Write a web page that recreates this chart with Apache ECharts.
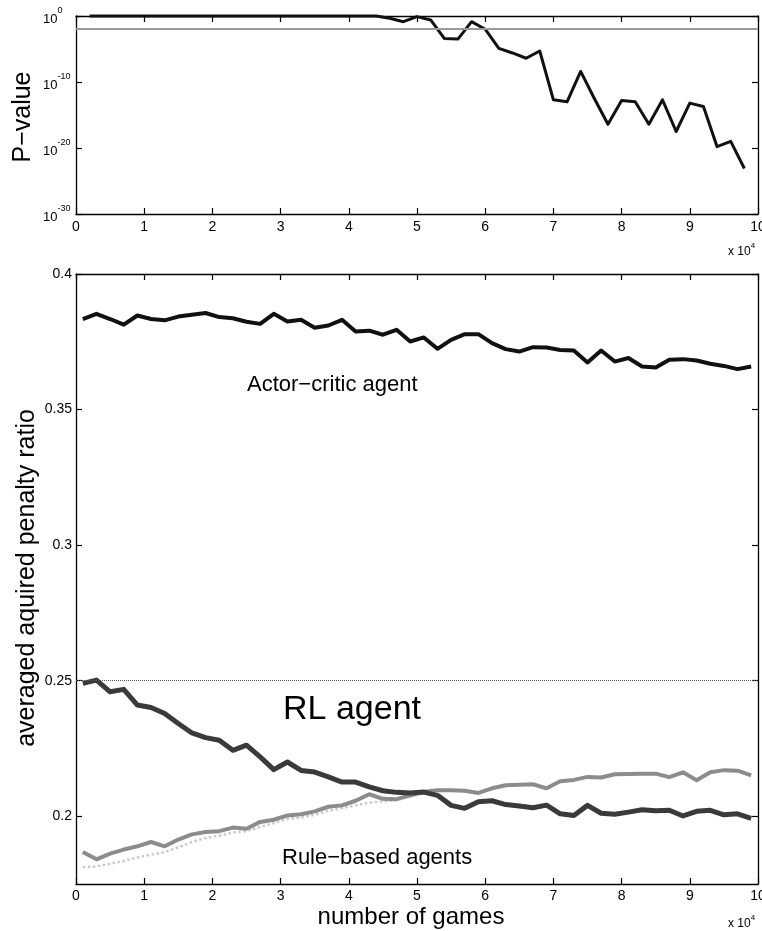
<!DOCTYPE html>
<html>
<head>
<meta charset="utf-8">
<script src="https://cdn.jsdelivr.net/npm/echarts@6/dist/echarts.min.js"></script>
<style>
  html, body { margin: 0; padding: 0; background: #fff; }
  #chart { width: 762px; height: 931px; }
</style>
</head>
<body>
<div id="chart"></div>
<script>
// Number of games, in units of 10^4
const xTicks = [0, 1, 2, 3, 4, 5, 6, 7, 8, 9, 10];

// Upper panel: P-value of the difference (log10 of P)
const pGames = [0.2, 0.4, 0.6, 0.8, 1.0, 1.2, 1.4, 1.6, 1.8, 2.0,
                2.2, 2.4, 2.6, 2.8, 3.0, 3.2, 3.4, 3.6, 3.8, 4.0,
                4.2, 4.4, 4.6, 4.8, 5.0, 5.2, 5.4, 5.6, 5.8, 6.0,
                6.2, 6.4, 6.6, 6.8, 7.0, 7.2, 7.4, 7.6, 7.8, 8.0,
                8.2, 8.4, 8.6, 8.8, 9.0, 9.2, 9.4, 9.6, 9.8];
const pValueExponent = [0, 0, 0, 0, 0, 0, 0, 0, 0, 0,
                        0, 0, 0, 0, 0, 0, 0, 0, 0, 0,
                        0, 0, -0.35, -0.86, -0.1, -0.6, -3.4, -3.5, -0.86, -2.0,
                        -4.9, -5.6, -6.4, -5.3, -12.7, -13.0, -8.4, -12.5, -16.4, -12.8,
                        -13.0, -16.4, -12.7, -17.5, -13.2, -13.7, -19.8, -19.0, -23.1];
const pTicks = [-30, -20, -10, 0];
const significanceLevel = 0.01;

// Lower panel: averaged acquired penalty ratio
const ratioGames = [0.1, 0.3, 0.5, 0.7, 0.9, 1.1, 1.3, 1.5, 1.7, 1.9,
                    2.1, 2.3, 2.5, 2.7, 2.9, 3.1, 3.3, 3.5, 3.7, 3.9,
                    4.1, 4.3, 4.5, 4.7, 4.9, 5.1, 5.3, 5.5, 5.7, 5.9,
                    6.1, 6.3, 6.5, 6.7, 6.9, 7.1, 7.3, 7.5, 7.7, 7.9,
                    8.1, 8.3, 8.5, 8.7, 8.9, 9.1, 9.3, 9.5, 9.7, 9.9];
const actorCritic = [0.3834, 0.3853, 0.3834, 0.3813, 0.3847, 0.3834, 0.3829, 0.3843, 0.3850, 0.3856,
                     0.3841, 0.3837, 0.3824, 0.3816, 0.3853, 0.3825, 0.3831, 0.3802, 0.3810, 0.3831,
                     0.3788, 0.3791, 0.3776, 0.3794, 0.3751, 0.3766, 0.3724, 0.3757, 0.3778, 0.3778,
                     0.3745, 0.3723, 0.3714, 0.3730, 0.3729, 0.3720, 0.3718, 0.3674, 0.3718, 0.3677,
                     0.3690, 0.3659, 0.3655, 0.3684, 0.3686, 0.3681, 0.3669, 0.3661, 0.3649, 0.3659];
const rlAgent = [0.2490, 0.2502, 0.2459, 0.2468, 0.2410, 0.2401, 0.2379, 0.2342, 0.2307, 0.2290,
                 0.2280, 0.2243, 0.2262, 0.2219, 0.2172, 0.2200, 0.2169, 0.2163, 0.2145, 0.2126,
                 0.2126, 0.2108, 0.2094, 0.2088, 0.2086, 0.2089, 0.2077, 0.2040, 0.2029, 0.2053,
                 0.2057, 0.2043, 0.2038, 0.2031, 0.2041, 0.2009, 0.2003, 0.2040, 0.2011, 0.2007,
                 0.2015, 0.2024, 0.2020, 0.2022, 0.2001, 0.2018, 0.2022, 0.2005, 0.2009, 0.1992];
const ruleBased = [0.1868, 0.1841, 0.1862, 0.1877, 0.1889, 0.1905, 0.1889, 0.1914, 0.1933, 0.1942,
                   0.1945, 0.1958, 0.1954, 0.1979, 0.1987, 0.2003, 0.2007, 0.2018, 0.2035, 0.2040,
                   0.2057, 0.2081, 0.2064, 0.2063, 0.2077, 0.2090, 0.2096, 0.2096, 0.2094, 0.2086,
                   0.2103, 0.2114, 0.2116, 0.2118, 0.2103, 0.2129, 0.2134, 0.2145, 0.2143, 0.2155,
                   0.2156, 0.2157, 0.2157, 0.2144, 0.2162, 0.2133, 0.2162, 0.2170, 0.2168, 0.2151];
const ruleBasedSecond = [0.1812, 0.1815, 0.1825, 0.1835, 0.1848, 0.1858, 0.1868, 0.1885, 0.1905, 0.1920,
                         0.1928, 0.1940, 0.1945, 0.1960, 0.1975, 0.1990, 0.1995, 0.2005, 0.2020, 0.2030,
                         0.2040, 0.2050, 0.2055, 0.2060, 0.2072, 0.2085];
const ratioTicks = [0.2, 0.25, 0.3, 0.35, 0.4];
const initialRatio = 0.25;

const FONT = '"Liberation Sans", Arial, Helvetica, sans-serif';
const pairs = (xs, ys) => ys.map((y, i) => [xs[i], y]);

const chart = echarts.init(document.getElementById('chart'), null, { renderer: 'canvas' });

const frameLine = { show: true, onZero: false, lineStyle: { color: '#000', width: 1.3 } };
const innerTick = { show: true, inside: true, length: 6, lineStyle: { color: '#000', width: 1.2 } };
const tickFont = { color: '#000', fontFamily: FONT, fontSize: 14 };

function xPair(gridIndex, labelMargin) {
  const base = { type: 'value', gridIndex, min: 0, max: 10, interval: 1,
                 axisLine: frameLine, axisTick: innerTick, splitLine: { show: false } };
  return [
    Object.assign({}, base, { position: 'bottom',
      axisLabel: Object.assign({ margin: labelMargin, showMaxLabel: true, hideOverlap: false }, tickFont) }),
    Object.assign({}, base, { position: 'top', axisLabel: { show: false } })
  ];
}

const supRich = {
  a: { fontFamily: FONT, fontSize: 12, fill: '#000', verticalAlign: 'bottom', lineHeight: 16 },
  s: { fontFamily: FONT, fontSize: 8, fill: '#000', verticalAlign: 'top', lineHeight: 16 }
};

const option = {
  animation: false,
  backgroundColor: '#fff',
  grid: [
    { left: 76, top: 16, width: 682, height: 198, containLabel: false, outerBoundsMode: 'none' },
    { left: 76, top: 274, width: 682, height: 610, containLabel: false, outerBoundsMode: 'none' }
  ],
  xAxis: [...xPair(0, 6), ...xPair(1, 5)],
  yAxis: [
    { type: 'value', gridIndex: 0, position: 'left', min: -30, max: 0, interval: 10,
      axisLine: frameLine, axisTick: innerTick, splitLine: { show: false },
      axisLabel: {
        margin: 33, align: 'left',
        formatter: v => '{b|10}{s|' + v + '}',
        rich: {
          b: { fontFamily: FONT, fontSize: 13, color: '#000', verticalAlign: 'bottom', lineHeight: 20 },
          s: { fontFamily: FONT, fontSize: 9, color: '#000', verticalAlign: 'top', lineHeight: 20 }
        }
      } },
    { type: 'value', gridIndex: 0, position: 'right', min: -30, max: 0, interval: 10,
      axisLine: frameLine, axisTick: innerTick, splitLine: { show: false }, axisLabel: { show: false } },
    { type: 'value', gridIndex: 1, position: 'left', min: 0.175, max: 0.4,
      axisLine: frameLine, splitLine: { show: false },
      axisTick: Object.assign({ customValues: ratioTicks }, innerTick),
      axisLabel: Object.assign({ margin: 4, customValues: ratioTicks }, tickFont) },
    { type: 'value', gridIndex: 1, position: 'right', min: 0.175, max: 0.4,
      axisLine: frameLine, splitLine: { show: false },
      axisTick: Object.assign({ customValues: ratioTicks }, innerTick),
      axisLabel: { show: false } }
  ],
  series: [
    { name: 'P-value', type: 'line', xAxisIndex: 0, yAxisIndex: 0,
      data: pairs(pGames, pValueExponent), symbol: 'none', clip: false,
      lineStyle: { color: '#111', width: 3, join: 'round' },
      markLine: { silent: true, symbol: 'none', label: { show: false },
        lineStyle: { color: '#9a9a9a', width: 2, type: 'solid' },
        data: [{ yAxis: Math.log10(significanceLevel) }] } },
    { name: 'Rule-based agent 2', type: 'line', xAxisIndex: 2, yAxisIndex: 2,
      data: pairs(ratioGames, ruleBasedSecond), symbol: 'none',
      lineStyle: { color: '#c8c8c8', width: 2.5, type: 'dotted' } },
    { name: 'Rule-based agents', type: 'line', xAxisIndex: 2, yAxisIndex: 2,
      data: pairs(ratioGames, ruleBased), symbol: 'none',
      lineStyle: { color: '#8c8c8c', width: 4, join: 'round' } },
    { name: 'RL agent', type: 'line', xAxisIndex: 2, yAxisIndex: 2,
      data: pairs(ratioGames, rlAgent), symbol: 'none',
      lineStyle: { color: '#3a3a3a', width: 5, join: 'round' },
      markLine: { silent: true, symbol: 'none', label: { show: false },
        lineStyle: { color: '#555', width: 1, type: 'dotted' },
        data: [{ yAxis: initialRatio }] } },
    { name: 'Actor-critic agent', type: 'line', xAxisIndex: 2, yAxisIndex: 2,
      data: pairs(ratioGames, actorCritic), symbol: 'none',
      lineStyle: { color: '#111', width: 4, join: 'round' } }
  ],
  graphic: [
    { type: 'text', x: 23, y: 117, rotation: Math.PI / 2,
      style: { text: 'P\u2212value', font: '25px ' + FONT, fill: '#000', align: 'center', verticalAlign: 'middle' } },
    { type: 'text', x: 27, y: 578, rotation: Math.PI / 2,
      style: { text: 'averaged aquired penalty ratio', font: '25px ' + FONT, fill: '#000', align: 'center', verticalAlign: 'middle' } },
    { type: 'text', x: 411, y: 917,
      style: { text: 'number of games', font: '24px ' + FONT, fill: '#000', align: 'center', verticalAlign: 'middle' } },
    { type: 'text', x: 247, y: 385,
      style: { text: 'Actor\u2212critic agent', font: '22px ' + FONT, fill: '#000', align: 'left', verticalAlign: 'middle' } },
    { type: 'text', x: 283, y: 710,
      style: { text: 'RL agent', font: '34px ' + FONT, fill: '#000', align: 'left', verticalAlign: 'middle' } },
    { type: 'text', x: 282, y: 858,
      style: { text: 'Rule\u2212based agents', font: '22px ' + FONT, fill: '#000', align: 'left', verticalAlign: 'middle' } },
    { type: 'text', x: 728, y: 250,
      style: { text: '{a|x 10}{s|4}', align: 'left', verticalAlign: 'middle', rich: supRich } },
    { type: 'text', x: 728, y: 922,
      style: { text: '{a|x 10}{s|4}', align: 'left', verticalAlign: 'middle', rich: supRich } }
  ]
};

chart.setOption(option);
</script>
</body>
</html>
